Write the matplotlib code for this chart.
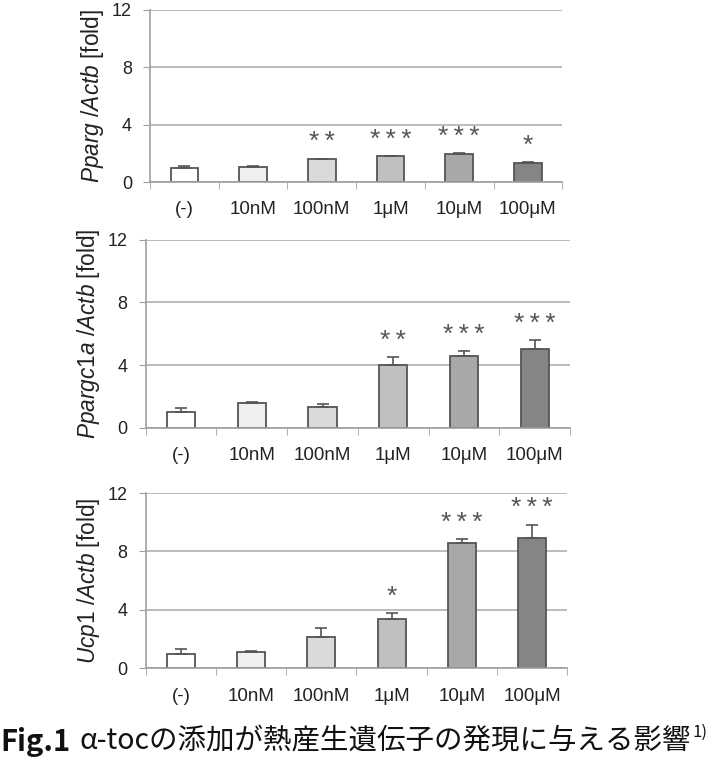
import matplotlib
matplotlib.use('Agg')
import matplotlib.pyplot as plt
import numpy as np

plt.rcParams['font.family'] = ['Liberation Sans', 'DejaVu Sans']
plt.rcParams['mathtext.fontset'] = 'custom'
plt.rcParams['mathtext.it'] = 'Liberation Sans:italic'
plt.rcParams['mathtext.rm'] = 'Liberation Sans'

cats = ['(-)', '10nM', '100nM', '1\u03bcM', '10\u03bcM', '100\u03bcM']
genes = ['Pparg', 'Ppargc1a', 'Ucp1']

pparg = [1.0, 1.05, 1.6, 1.8, 1.95, 1.35]
pparg_err = [0.15, 0.05, 0.03, 0.03, 0.05, 0.03]
pparg_sig = ['', '', '**', '***', '***', '*']

ppargc1a = [1.0, 1.6, 1.35, 4.0, 4.6, 5.0]
ppargc1a_err = [0.25, 0.03, 0.15, 0.5, 0.3, 0.6]
ppargc1a_sig = ['', '', '', '**', '***', '***']

ucp1 = [1.0, 1.1, 2.15, 3.38, 8.55, 8.92]
ucp1_err = [0.3, 0.05, 0.57, 0.4, 0.3, 0.92]
ucp1_sig = ['', '', '', '*', '***', '***']

bar_colors = ['#ffffff', '#efefef', '#dadada', '#c0c0c0', '#a8a8a8', '#858585']

fig = plt.figure(figsize=(7.18, 7.68), dpi=100)

positions = [[0.209, 0.763, 0.574, 0.224],
             [0.203, 0.443, 0.591, 0.245],
             [0.203, 0.130, 0.587, 0.228]]
data = [(pparg, pparg_err, pparg_sig), (ppargc1a, ppargc1a_err, ppargc1a_sig),
        (ucp1, ucp1_err, ucp1_sig)]

x = np.arange(len(cats))
for pos, gene, (vals, errs, sigs) in zip(positions, genes, data):
    ax = fig.add_axes(pos)
    ax.set_axisbelow(True)
    ax.yaxis.grid(True, color='#b0b0b0', lw=1.2)
    ax.bar(x, vals, width=0.4, color=bar_colors, edgecolor='#555555', lw=1.3, zorder=2)
    ax.errorbar(x, vals, yerr=[np.zeros(len(errs)), errs], fmt='none',
                ecolor='#555555', elinewidth=1.2, capsize=4, capthick=1.2, zorder=3)
    for xi, v, e, s in zip(x, vals, errs, sigs):
        if s:
            ax.annotate('\u2009'.join(s), (xi, v + e), xytext=(0, 3), textcoords='offset points',
                        ha='center', va='bottom', fontsize=19, color='#555555')
    ax.set_xlim(-0.5, 5.5)
    ax.set_ylim(0, 12)
    ax.set_yticks([0, 4, 8, 12])
    ax.set_xticks(x)
    ax.set_xticklabels(cats)
    ax.set_xticks(np.arange(-0.5, 6, 1), minor=True)
    ax.tick_params(axis='x', which='major', length=0, pad=14, labelsize=13.5, labelcolor='#222222')
    ax.tick_params(axis='x', which='minor', length=5, color='#a0a0a0')
    ax.tick_params(axis='y', length=5, color='#a0a0a0', pad=8, labelsize=13, labelcolor='#222222')
    for sp in ['top', 'right']:
        ax.spines[sp].set_visible(False)
    for sp in ['left', 'bottom']:
        ax.spines[sp].set_color('#a0a0a0')
        ax.spines[sp].set_linewidth(1.2)
    ax.set_ylabel(r'$\mathit{%s}$ /$\mathit{Actb}$ [fold]' % gene, fontsize=16.3,
                  color='#222222', labelpad=4)

fig.text(0.0, 0.034, 'Fig.1', fontsize=21, fontweight='bold', color='#111111',
         family=['Noto Sans CJK JP', 'DejaVu Sans'], va='center')
fig.text(0.111, 0.034, '\u03b1-toc\u306e\u6dfb\u52a0\u304c\u71b1\u7523\u751f\u907a\u4f1d\u5b50\u306e\u767a\u73fe\u306b\u4e0e\u3048\u308b\u5f71\u97ff',
         fontsize=20.5, color='#111111', family=['Noto Sans CJK JP', 'DejaVu Sans'], va='center')
fig.text(0.965, 0.046, '1)', fontsize=12, color='#111111',
         family=['Noto Sans CJK JP', 'DejaVu Sans'], va='center')

fig.savefig('out.png', dpi=100)
